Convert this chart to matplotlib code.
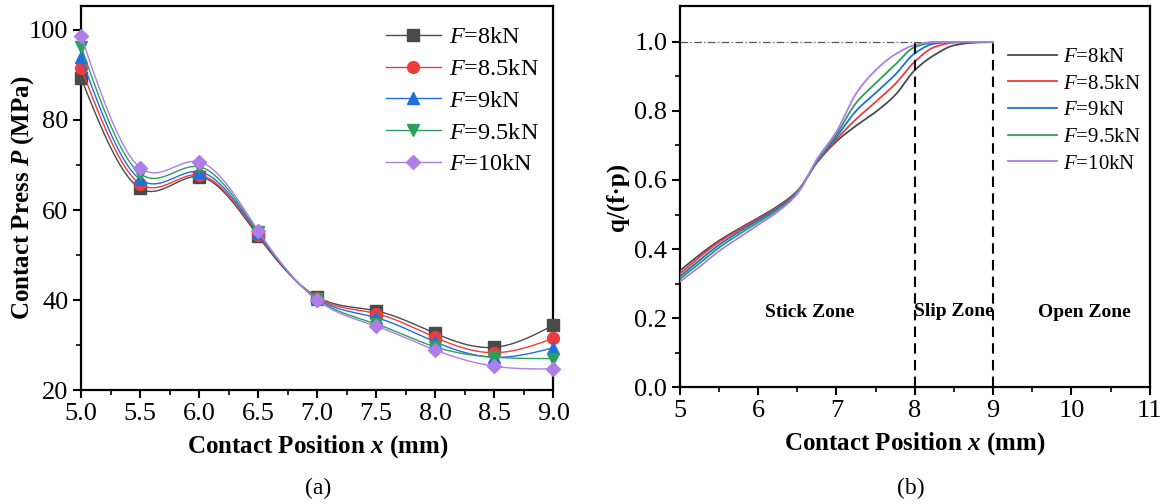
import numpy as np
import matplotlib
matplotlib.use("Agg")
import matplotlib.pyplot as plt

plt.rcParams["font.family"] = ["Liberation Serif", "DejaVu Serif"]
plt.rcParams["mathtext.fontset"] = "custom"
plt.rcParams["mathtext.rm"] = "Liberation Serif"
plt.rcParams["mathtext.it"] = "Liberation Serif:italic"
plt.rcParams["mathtext.bf"] = "Liberation Serif:bold"
plt.rcParams["mathtext.bfit"] = "Liberation Serif:italic:bold"

# ---- data: (a) contact pressure ----
pos_a = [5.0, 5.5, 6.0, 6.5, 7.0, 7.5, 8.0, 8.5, 9.0]
p_8 = [89.3, 64.8, 67.4, 54.2, 40.7, 37.6, 32.6, 29.5, 34.4]
p_85 = [91.6, 65.8, 67.8, 54.5, 40.5, 37.0, 31.7, 28.3, 31.5]
p_9 = [93.9, 66.8, 68.5, 54.8, 40.3, 36.1, 30.7, 27.3, 29.4]
p_95 = [96.3, 68.1, 69.6, 55.1, 40.2, 34.7, 29.6, 27.3, 27.0]
p_10 = [98.7, 69.4, 70.7, 55.4, 40.0, 34.2, 28.9, 25.3, 24.7]

# ---- data: (b) q/(f.p) ----
pos_b = [5.0, 5.25, 5.5, 5.75, 6.0, 6.25, 6.5, 6.75, 7.0, 7.25, 7.5, 7.75, 8.0, 8.25, 8.5, 8.75, 9.0]
q_8 = [0.337, 0.383, 0.424, 0.458, 0.490, 0.524, 0.568, 0.650, 0.712, 0.757, 0.797, 0.846, 0.918, 0.962, 0.990, 0.998, 1.0]
q_85 = [0.328, 0.376, 0.420, 0.455, 0.487, 0.521, 0.566, 0.652, 0.718, 0.776, 0.826, 0.878, 0.943, 0.985, 0.998, 1.0, 1.0]
q_9 = [0.320, 0.367, 0.412, 0.449, 0.483, 0.518, 0.564, 0.654, 0.725, 0.800, 0.852, 0.905, 0.967, 0.995, 1.0, 1.0, 1.0]
q_95 = [0.313, 0.358, 0.404, 0.442, 0.477, 0.513, 0.562, 0.656, 0.732, 0.823, 0.880, 0.934, 0.985, 0.998, 1.0, 1.0, 1.0]
q_10 = [0.305, 0.348, 0.394, 0.432, 0.470, 0.508, 0.560, 0.660, 0.740, 0.850, 0.918, 0.964, 0.991, 1.0, 1.0, 1.0, 1.0]

labels = [r"$F$=8kN", r"$F$=8.5kN", r"$F$=9kN", r"$F$=9.5kN", r"$F$=10kN"]
colors = ["#4a4a4a", "#ee3b3b", "#1f6fdc", "#2aa05c", "#b07ce6"]
markers = ["s", "o", "^", "v", "D"]


def natural_spline(x, y, xs):
    x = np.asarray(x, float)
    y = np.asarray(y, float)
    n = len(x)
    h = np.diff(x)
    A = np.zeros((n, n))
    r = np.zeros(n)
    A[0, 0] = A[-1, -1] = 1
    for i in range(1, n - 1):
        A[i, i - 1] = h[i - 1]
        A[i, i] = 2 * (h[i - 1] + h[i])
        A[i, i + 1] = h[i]
        r[i] = 3 * ((y[i + 1] - y[i]) / h[i] - (y[i] - y[i - 1]) / h[i - 1])
    c = np.linalg.solve(A, r)
    b = (y[1:] - y[:-1]) / h - h * (2 * c[:-1] + c[1:]) / 3
    d = (c[1:] - c[:-1]) / (3 * h)
    idx = np.clip(np.searchsorted(x, xs, side="right") - 1, 0, n - 2)
    dx = xs - x[idx]
    return y[idx] + b[idx] * dx + c[idx] * dx ** 2 + d[idx] * dx ** 3


def pchip(x, y, xs):
    x = np.asarray(x, float)
    y = np.asarray(y, float)
    n = len(x)
    h = np.diff(x)
    delta = np.diff(y) / h
    m = np.zeros(n)
    m[0], m[-1] = delta[0], delta[-1]
    for k in range(1, n - 1):
        if delta[k - 1] * delta[k] > 0:
            w1 = 2 * h[k] + h[k - 1]
            w2 = h[k] + 2 * h[k - 1]
            m[k] = (w1 + w2) / (w1 / delta[k - 1] + w2 / delta[k])
    idx = np.clip(np.searchsorted(x, xs, side="right") - 1, 0, n - 2)
    t = (xs - x[idx]) / h[idx]
    h00 = 2 * t ** 3 - 3 * t ** 2 + 1
    h10 = t ** 3 - 2 * t ** 2 + t
    h01 = -2 * t ** 3 + 3 * t ** 2
    h11 = t ** 3 - t ** 2
    return h00 * y[idx] + h10 * h[idx] * m[idx] + h01 * y[idx + 1] + h11 * h[idx] * m[idx + 1]


def style_axes(ax):
    for s in ax.spines.values():
        s.set_linewidth(1.6)
    ax.tick_params(which="major", direction="out", length=6, width=1.5, labelsize=19, pad=3)
    ax.tick_params(which="minor", direction="out", length=3.5, width=1.2)


fig = plt.figure(figsize=(11.66, 5.04), dpi=100)

# ---- (a) ----
ax1 = fig.add_axes([0.0695, 0.226, 0.405, 0.762])
xs = np.linspace(pos_a[0], pos_a[-1], 401)
for ys, lab, c, mk in zip([p_8, p_85, p_9, p_95, p_10], labels, colors, markers):
    ax1.plot(xs, natural_spline(pos_a, ys, xs), color=c, lw=1.0, marker=mk,
             markevery=50, ms=8.5 if mk != "D" else 7.5, label=lab, clip_on=False, zorder=3)
ax1.set_xlim(5.0, 9.0)
ax1.set_ylim(20, 105.3)
ax1.set_xticks(pos_a)
ax1.set_xticklabels([f"{v:.1f}" for v in pos_a])
ax1.set_xticks(np.arange(5.25, 9.0, 0.5), minor=True)
ax1.set_yticks([20, 40, 60, 80, 100])
ax1.set_yticks([30, 50, 70, 90], minor=True)
style_axes(ax1)
ax1.set_xlabel(r"Contact Position $\mathbfit{x}$ (mm)", fontsize=18, fontweight="bold", labelpad=6)
ax1.set_ylabel(r"Contact Press $\mathbfit{P}$ (MPa)", fontsize=18, fontweight="bold")
ax1.yaxis.set_label_coords(-0.095, 0.5)
ax1.legend(loc="upper right", bbox_to_anchor=(1.0, 0.985), frameon=False, fontsize=17.5, numpoints=1,
           handlelength=2.3, handletextpad=0.3, labelspacing=0.4, borderaxespad=0.2)

# ---- (b) ----
ax2 = fig.add_axes([0.583, 0.232, 0.403, 0.756])
xs_b = np.linspace(pos_b[0], pos_b[-1], 801)
for ys, lab, c in zip([q_8, q_85, q_9, q_95, q_10], labels, colors):
    ax2.plot(xs_b, pchip(pos_b, ys, xs_b), color=c, lw=1.3, label=lab, zorder=3)
ax2.plot([5, 9], [1.0, 1.0], color="#555555", lw=0.9, ls=(0, (6, 2, 1, 2)), zorder=2)
ax2.plot([8, 8], [0, 1.0], color="black", lw=1.5, ls=(0, (5, 3)), zorder=4)
ax2.plot([9, 9], [0, 1.0], color="black", lw=1.5, ls=(0, (5, 3)), zorder=4)
ax2.text(6.66, 0.215, "Stick Zone", fontsize=14, fontweight="bold", ha="center", va="center")
ax2.text(8.5, 0.22, "Slip Zone", fontsize=14, fontweight="bold", ha="center", va="center")
ax2.text(10.17, 0.215, "Open Zone", fontsize=14, fontweight="bold", ha="center", va="center")
ax2.set_xlim(5, 11)
ax2.set_ylim(0, 1.104)
ax2.set_xticks(range(5, 12))
ax2.set_xticks(np.arange(5.5, 11, 1.0), minor=True)
ax2.set_yticks([0.0, 0.2, 0.4, 0.6, 0.8, 1.0])
ax2.set_yticklabels(["0.0", "0.2", "0.4", "0.6", "0.8", "1.0"])
ax2.set_yticks([0.1, 0.3, 0.5, 0.7, 0.9], minor=True)
style_axes(ax2)
ax2.set_xlabel(r"Contact Position $\mathbfit{x}$ (mm)", fontsize=18, fontweight="bold", labelpad=6)
ax2.set_ylabel("q/(f·p)", fontsize=18, fontweight="bold")
ax2.yaxis.set_label_coords(-0.109, 0.5)
ax2.legend(loc="upper left", bbox_to_anchor=(0.6815, 0.913), frameon=False, fontsize=15,
           handlelength=2.35, handletextpad=0.25, labelspacing=0.34, borderaxespad=0.0)

fig.text(0.273, 0.030, "(a)", fontsize=17, ha="center", va="center")
fig.text(0.781, 0.030, "(b)", fontsize=17, ha="center", va="center")

fig.savefig("out.png", dpi=100)
